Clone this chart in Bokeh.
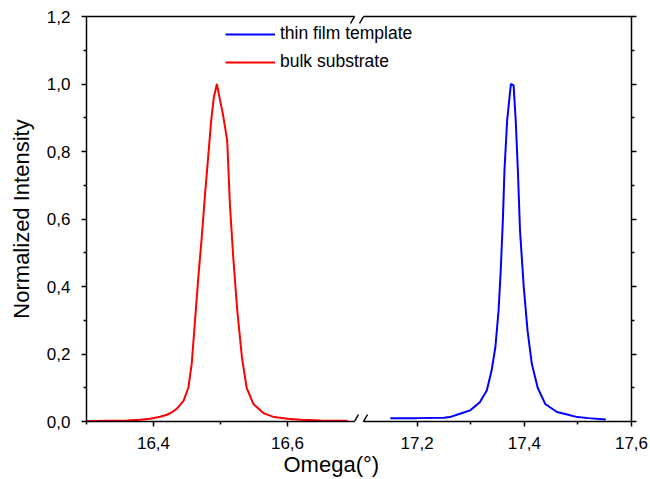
from bokeh.plotting import figure
from bokeh.models import (Range1d, LinearAxis, FixedTicker, CustomJSTickFormatter,
                          Legend, LegendItem, Arrow, Title)
from bokeh.embed import file_html
from bokeh.resources import INLINE

# ---------------- data ----------------
bulk_omega = [16.30, 16.33, 16.36, 16.38, 16.395, 16.41, 16.42, 16.428, 16.435, 16.445,
              16.452, 16.457, 16.462, 16.467, 16.472, 16.477, 16.482, 16.486, 16.490,
              16.4946, 16.4995, 16.5035, 16.510, 16.514, 16.519, 16.525, 16.532, 16.539,
              16.549, 16.564, 16.580, 16.600, 16.620, 16.650, 16.690]
bulk_int = [0.001, 0.002, 0.003, 0.005, 0.008, 0.014, 0.020, 0.028, 0.038, 0.062,
            0.100, 0.170, 0.300, 0.430, 0.546, 0.675, 0.793, 0.890, 0.960,
            1.000, 0.950, 0.912, 0.833, 0.645, 0.487, 0.329, 0.190, 0.100,
            0.052, 0.025, 0.013, 0.008, 0.005, 0.003, 0.002]

film_omega = [17.150, 17.200, 17.250, 17.261, 17.280, 17.299, 17.317, 17.330, 17.339,
              17.346, 17.352, 17.356, 17.360, 17.363, 17.368, 17.375, 17.380, 17.384,
              17.388, 17.392, 17.399, 17.406, 17.414, 17.425, 17.439, 17.461, 17.480,
              17.499, 17.520, 17.552]
film_int = [0.010, 0.010, 0.011, 0.013, 0.023, 0.033, 0.057, 0.092, 0.151,
            0.220, 0.329, 0.447, 0.596, 0.744, 0.892, 1.000, 0.996, 0.892,
            0.744, 0.566, 0.398, 0.270, 0.171, 0.100, 0.052, 0.028, 0.021,
            0.013, 0.010, 0.006]

left_segment = (16.3, 16.7)
right_segment = (17.1, 17.6)
x_major_left = [16.4, 16.6]
x_minor_left = [16.3, 16.5]
x_major_right = [17.2, 17.4, 17.6]
x_minor_right = [17.3, 17.5]
y_major = [0.0, 0.2, 0.4, 0.6, 0.8, 1.0, 1.2]
y_minor = [0.1, 0.3, 0.5, 0.7, 0.9, 1.1]
series_names = ["thin film template", "bulk substrate"]
series_colors = ["#0000ff", "#ff0000"]
x_title = "Omega(°)"
y_title = "Normalized Intensity"

# ---------------- layout ----------------
W, H = 650, 479
BL, BR, BT, BB = 86, 19, 16, 58
FRAME_W = W - BL - BR
FRAME_H = H - BT - BB
GAP = 9
seg_px = (FRAME_W - GAP) / 2.0
kL = seg_px / (left_segment[1] - left_segment[0])
kR = seg_px / (right_segment[1] - right_segment[0])
kY = FRAME_H / (y_major[-1] - y_major[0])

x_left = Range1d(left_segment[0], left_segment[0] + FRAME_W / kL)
x_right = Range1d(right_segment[1] - FRAME_W / kR, right_segment[1])


def right_to_left(v):
    return x_left.start + (v - x_right.start) * kR / kL


FONT = "Liberation Sans"
AX_W = 1.5

p = figure(width=W, height=H, x_range=x_left, y_range=Range1d(y_major[0], y_major[-1]),
           output_backend="svg", toolbar_location=None,
           x_axis_location=None,
           min_border_left=BL, min_border_right=BR, min_border_top=BT, min_border_bottom=BB,
           outline_line_color=None, background_fill_color="white", border_fill_color="white")
p.extra_x_ranges = {"right": x_right}
p.xgrid.visible = False
p.ygrid.visible = False

red = p.line(bulk_omega, bulk_int, line_color=series_colors[1], line_width=2)
blue = p.line(film_omega, film_int, x_range_name="right", line_color=series_colors[0], line_width=2)


def line_only_axis(range_name, bounds):
    return LinearAxis(x_range_name=range_name, bounds=bounds,
                      ticker=FixedTicker(ticks=[], minor_ticks=[]),
                      major_tick_out=0, major_tick_in=0, minor_tick_out=0, minor_tick_in=0,
                      major_label_standoff=0, axis_line_color="black", axis_line_width=AX_W)


# axis lines of the two segments (no size of their own), bottom and top
p.add_layout(line_only_axis("default", left_segment), "below")
p.add_layout(line_only_axis("right", right_segment), "below")
p.add_layout(line_only_axis("default", left_segment), "above")
p.add_layout(line_only_axis("right", right_segment), "above")

# tick axis for both segments
xa = LinearAxis(
    ticker=FixedTicker(ticks=x_major_left + [right_to_left(v) for v in x_major_right],
                       minor_ticks=x_minor_left + [right_to_left(v) for v in x_minor_right]),
    formatter=CustomJSTickFormatter(
        args=dict(split=left_segment[1] + 0.02, l0=x_left.start, r0=x_right.start, ratio=kL / kR),
        code="const v = tick <= split ? tick : r0 + (tick - l0) * ratio; return v.toFixed(1).replace('.', ',');"),
    axis_line_color=None,
    major_tick_out=5, major_tick_in=0, minor_tick_out=3, minor_tick_in=0,
    major_tick_line_width=AX_W, minor_tick_line_width=AX_W,
    major_tick_line_color="black", minor_tick_line_color="black",
    major_label_standoff=10, major_label_text_font=FONT, major_label_text_font_size="17px",
    major_label_text_color="black")
p.add_layout(xa, "below")

# x axis title
p.add_layout(Title(text=x_title, align="left", offset=197, vertical_align="top", standoff=0,
                   text_font=FONT, text_font_size="22px", text_font_style="normal",
                   text_color="black"), "below")

# left axis
ya = p.yaxis[0]
ya.ticker = FixedTicker(ticks=y_major, minor_ticks=y_minor)
ya.formatter = CustomJSTickFormatter(code="return tick.toFixed(1).replace('.', ',');")
ya.axis_label = y_title
ya.axis_label_text_font = FONT
ya.axis_label_text_font_size = "22px"
ya.axis_label_text_font_style = "normal"
ya.axis_label_text_color = "black"
ya.axis_label_standoff = 10
ya.axis_line_width = AX_W
ya.axis_line_color = "black"
ya.major_tick_out = 5
ya.major_tick_in = 0
ya.minor_tick_out = 3
ya.minor_tick_in = 0
ya.major_tick_line_width = AX_W
ya.minor_tick_line_width = AX_W
ya.major_tick_line_color = "black"
ya.minor_tick_line_color = "black"
ya.major_label_standoff = 11
ya.major_label_text_font = FONT
ya.major_label_text_font_size = "17px"
ya.major_label_text_color = "black"

# right axis: ticks only
ra = LinearAxis(ticker=FixedTicker(ticks=y_major, minor_ticks=y_minor),
                formatter=CustomJSTickFormatter(code="return '';"),
                major_label_text_color=None, major_label_standoff=0,
                axis_line_width=AX_W, axis_line_color="black",
                major_tick_out=5, major_tick_in=0, minor_tick_out=3, minor_tick_in=0,
                major_tick_line_width=AX_W, minor_tick_line_width=AX_W,
                major_tick_line_color="black", minor_tick_line_color="black")
p.add_layout(ra, "right")

# break marks "//" on the bottom and top lines
dy = 7.0 / kY
for yv in [y_major[0], y_major[-1]]:
    for c, k, rn in [(left_segment[1], kL, "default"), (right_segment[0], kR, "right")]:
        dx = 4.0 / k
        p.add_layout(Arrow(end=None, x_start=c - dx, y_start=yv - dy, x_end=c + dx, y_end=yv + dy,
                           x_range_name=rn, line_color="black", line_width=AX_W))

legend = Legend(items=[LegendItem(label=series_names[0], renderers=[blue]),
                       LegendItem(label=series_names[1], renderers=[red])],
                location=(139, 349), border_line_color=None, background_fill_alpha=0,
                glyph_width=50, glyph_height=20, label_height=20, label_standoff=5,
                spacing=7, padding=0, margin=0,
                label_text_font=FONT, label_text_font_size="17.5px", label_text_color="black")
p.add_layout(legend)

open("out.html", "w").write(file_html(p, INLINE))
